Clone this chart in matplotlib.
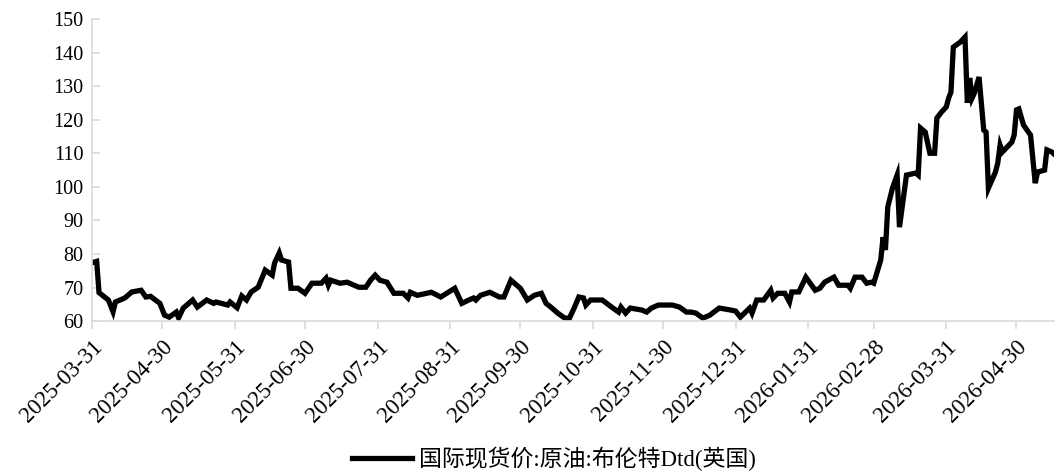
import numpy as np
import pandas as pd
import matplotlib
matplotlib.use("Agg")
import matplotlib.pyplot as plt
import matplotlib.dates as mdates

plt.rcParams['font.family'] = ['Liberation Serif', 'Noto Sans CJK SC', 'DejaVu Sans']

# Brent Dtd spot price
dates = [
    "2025-03-31", "2025-04-01", "2025-04-02", "2025-04-03", "2025-04-07", "2025-04-09",
    "2025-04-10", "2025-04-14", "2025-04-17", "2025-04-21", "2025-04-23", "2025-04-25",
    "2025-04-29", "2025-05-01", "2025-05-03", "2025-05-06", "2025-05-07", "2025-05-09",
    "2025-05-13", "2025-05-15", "2025-05-19", "2025-05-22", "2025-05-23", "2025-05-28",
    "2025-05-29", "2025-06-01", "2025-06-03", "2025-06-05", "2025-06-07", "2025-06-10",
    "2025-06-13", "2025-06-16", "2025-06-17", "2025-06-19", "2025-06-20", "2025-06-23",
    "2025-06-24", "2025-06-27", "2025-06-30", "2025-07-03", "2025-07-07", "2025-07-09",
    "2025-07-10", "2025-07-11", "2025-07-15", "2025-07-18", "2025-07-23", "2025-07-26",
    "2025-07-28", "2025-07-30", "2025-08-01", "2025-08-04", "2025-08-07", "2025-08-11",
    "2025-08-13", "2025-08-14", "2025-08-17", "2025-08-23", "2025-08-27", "2025-09-02",
    "2025-09-05", "2025-09-08", "2025-09-10", "2025-09-11", "2025-09-13", "2025-09-17",
    "2025-09-21", "2025-09-23", "2025-09-26", "2025-09-30", "2025-10-03", "2025-10-06",
    "2025-10-09", "2025-10-11", "2025-10-13", "2025-10-16", "2025-10-19", "2025-10-21",
    "2025-10-23", "2025-10-25", "2025-10-27", "2025-10-28", "2025-10-30", "2025-11-04",
    "2025-11-08", "2025-11-11", "2025-11-12", "2025-11-14", "2025-11-16", "2025-11-21",
    "2025-11-23", "2025-11-25", "2025-11-28", "2025-12-04", "2025-12-07", "2025-12-10",
    "2025-12-12", "2025-12-14", "2025-12-17", "2025-12-20", "2025-12-24", "2025-12-29",
    "2025-12-31", "2026-01-02", "2026-01-06", "2026-01-07", "2026-01-09", "2026-01-12",
    "2026-01-15", "2026-01-16", "2026-01-18", "2026-01-21", "2026-01-23", "2026-01-24",
    "2026-01-27", "2026-01-30", "2026-02-03", "2026-02-05", "2026-02-07", "2026-02-11",
    "2026-02-13", "2026-02-17", "2026-02-18", "2026-02-20", "2026-02-23", "2026-02-25",
    "2026-02-27", "2026-02-28", "2026-03-03", "2026-03-04", "2026-03-05", "2026-03-06",
    "2026-03-08", "2026-03-10", "2026-03-11", "2026-03-14", "2026-03-18", "2026-03-19",
    "2026-03-20", "2026-03-22", "2026-03-24", "2026-03-26", "2026-03-27", "2026-03-29",
    "2026-03-31", "2026-04-01", "2026-04-02", "2026-04-03", "2026-04-06", "2026-04-08",
    "2026-04-09", "2026-04-10", "2026-04-11", "2026-04-12", "2026-04-14", "2026-04-16",
    "2026-04-17", "2026-04-18", "2026-04-21", "2026-04-22", "2026-04-23", "2026-04-24",
    "2026-04-28", "2026-04-29", "2026-04-30", "2026-05-01", "2026-05-03", "2026-05-06",
    "2026-05-08", "2026-05-09", "2026-05-12", "2026-05-13", "2026-05-15", "2026-05-16",
]
prices = [
    77.4, 77.6, 77.8, 68.5, 66.3, 62.8,
    65.7, 66.9, 68.7, 69.2, 67.2, 67.4,
    65.3, 61.8, 61.2, 62.7, 61.0, 63.9,
    66.3, 64.2, 66.3, 65.3, 65.7, 64.8,
    65.7, 64.0, 67.5, 66.3, 68.7, 70.1,
    75.2, 73.7, 77.3, 80.3, 78.2, 77.6,
    69.8, 69.8, 68.3, 71.3, 71.3, 72.8,
    70.7, 72.2, 71.3, 71.6, 70.1, 70.1,
    72.2, 73.7, 72.2, 71.6, 68.3, 68.3,
    66.9, 68.6, 67.7, 68.6, 67.2, 69.8,
    65.3, 66.3, 66.9, 66.3, 67.7, 68.6,
    67.2, 67.2, 72.2, 69.8, 66.3, 67.7,
    68.3, 65.3, 64.2, 62.4, 60.9, 60.9,
    63.9, 67.2, 66.9, 64.8, 66.3, 66.3,
    64.2, 62.7, 64.2, 62.4, 63.9, 63.3,
    62.7, 63.9, 64.8, 64.8, 64.2, 62.7,
    62.7, 62.4, 60.9, 61.8, 63.9, 63.3,
    63.0, 61.2, 63.9, 62.4, 66.3, 66.3,
    69.2, 66.9, 68.3, 68.3, 65.7, 68.7,
    68.7, 73.1, 69.2, 69.8, 71.6, 73.1,
    70.7, 70.7, 69.8, 73.1, 73.1, 71.3,
    71.6, 71.3, 78.2, 85.0, 81.2, 94.0,
    99.6, 103.5, 88.0, 103.5, 104.1, 103.5,
    117.5, 116.3, 110.0, 110.0, 120.5, 122.3,
    123.8, 126.4, 128.2, 141.6, 143.1, 144.6,
    125.0, 132.4, 126.4, 127.9, 132.7, 116.9,
    116.3, 99.6, 104.4, 107.1, 112.4, 110.4,
    113.3, 115.4, 122.9, 123.2, 118.4, 115.4,
    101.1, 104.4, 105.0, 111.0, 110.4, 109.8,
]
tick_dates = [
    "2025-03-31", "2025-04-30", "2025-05-31", "2025-06-30", "2025-07-31", "2025-08-31",
    "2025-09-30", "2025-10-31", "2025-11-30", "2025-12-31", "2026-01-31", "2026-02-28",
    "2026-03-31", "2026-04-30",
]
series_name = "国际现货价:原油:布伦特Dtd(英国)"

x = pd.to_datetime(dates)
ticks = pd.to_datetime(tick_dates)

fig = plt.figure(figsize=(10.55, 4.73), dpi=100)
ax = fig.add_axes([0.0872, 0.321, 0.9118, 0.639])

ax.plot(x, prices, color='black', lw=3.8, solid_joinstyle='miter', label=series_name)

ax.set_ylim(60, 150)
ax.set_yticks(np.arange(60, 151, 10))
ax.set_xlim(pd.Timestamp("2025-03-31"), pd.Timestamp("2026-05-16"))
ax.set_xticks(ticks)
ax.set_xticklabels([t.strftime('%Y-%m-%d') for t in ticks], rotation=45,
                   ha='right', va='top', rotation_mode='anchor')

for s in ['top', 'right']:
    ax.spines[s].set_visible(False)
for s in ['left', 'bottom']:
    ax.spines[s].set_color('#d9d9d9')
    ax.spines[s].set_linewidth(1.2)
ax.tick_params(axis='x', direction='out', length=6, color='#d9d9d9', width=1.2,
               labelsize=16.5, pad=5)
ax.tick_params(axis='y', direction='in', length=6, color='#d9d9d9', width=1.2,
               labelsize=14.5, pad=6)

fig.legend(loc='lower center', bbox_to_anchor=(0.525, -0.04), frameon=False,
           fontsize=16.5, handlelength=2.6, handletextpad=0.3)

fig.savefig('out.png', dpi=100)
